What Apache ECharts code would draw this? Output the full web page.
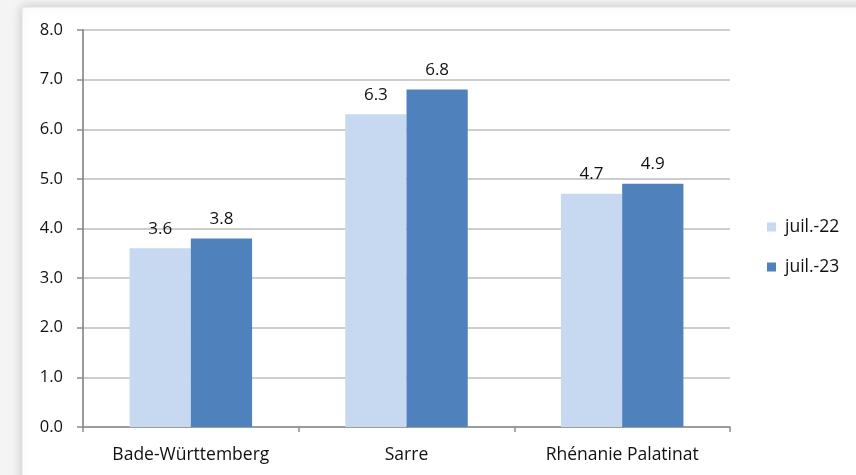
<!DOCTYPE html>
<html><head><meta charset="utf-8">
<script src="https://cdn.jsdelivr.net/npm/echarts@6/dist/echarts.min.js"></script>
<style>html,body{margin:0;padding:0;background:#fff}#c{width:856px;height:475px}</style>
</head><body><div id="c"></div>
<script>
const categories = ['Bade-Württemberg', 'Sarre', 'Rhénanie Palatinat'];
const seriesNames = ['juil.-22', 'juil.-23'];
const values22 = [3.6, 6.3, 4.7];
const values23 = [3.8, 6.8, 4.9];
const yTicks = [0, 1, 2, 3, 4, 5, 6, 7, 8];

const chart = echarts.init(document.getElementById('c'));
const font = 'Open Sans, Noto Sans, sans-serif';
const txt = '#111';
const lbl = {show: true, position: 'top', formatter: p => p.value.toFixed(1), color: txt, fontSize: 17, fontFamily: font, distance: 11};
chart.setOption({
  animation: false,
  backgroundColor: '#f4f4f4',
  graphic: [{type: 'rect', z: -10, shape: {x: 22, y: 7, width: 900, height: 520},
    style: {fill: '#fff', stroke: '#e2e2e2', lineWidth: 1, shadowBlur: 10, shadowColor: 'rgba(0,0,0,0.18)'}}],
  grid: {left: 83, right: 126, top: 30, bottom: 48},
  legend: {orient: 'vertical', left: 762, top: 212, itemWidth: 9, itemHeight: 9, itemGap: 20,
    icon: 'rect', textStyle: {fontSize: 17.5, lineHeight: 20, fontFamily: font, color: txt, padding: [0, 0, 0, 4]}, data: seriesNames},
  xAxis: {type: 'category', data: categories,
    axisLine: {lineStyle: {color: '#8c8c8c', width: 1.5}},
    axisTick: {show: true, alignWithLabel: false, length: 5, lineStyle: {color: '#8c8c8c', width: 1.5}},
    axisLabel: {fontSize: 17.5, fontFamily: font, color: txt, margin: 19}},
  yAxis: {type: 'value', min: yTicks[0], max: yTicks[yTicks.length - 1], interval: 1,
    axisLine: {show: true, lineStyle: {color: '#7a7a7a', width: 1.5}},
    axisTick: {show: true, length: 6, lineStyle: {color: '#8c8c8c', width: 1.5}},
    axisLabel: {fontSize: 16.5, fontFamily: font, color: txt, margin: 20, formatter: v => v.toFixed(1)},
    splitLine: {lineStyle: {color: '#bdbdbd', width: 1.5}}},
  series: [
    {name: seriesNames[0], type: 'bar', data: values22, barWidth: '28.4%', barGap: '0%', itemStyle: {color: '#c6d9f1'}, label: lbl},
    {name: seriesNames[1], type: 'bar', data: values23, barWidth: '28.4%', barGap: '0%', itemStyle: {color: '#4f81bd'}, label: lbl}
  ]
});
</script></body></html>
